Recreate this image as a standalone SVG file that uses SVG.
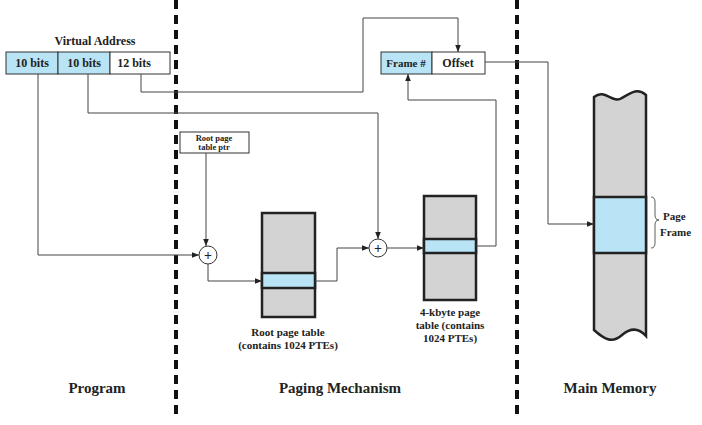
<svg xmlns="http://www.w3.org/2000/svg" width="702" height="425" viewBox="0 0 702 425">
<defs>
<style>
text{font-family:"Liberation Serif",serif;font-weight:bold;fill:#222}
.c{fill:none;stroke:#444;stroke-width:1}
.b{fill:#b8e4f5;stroke:#333;stroke-width:1}
.w{fill:#fff;stroke:#333;stroke-width:1}
.g{fill:#d3d3d3;stroke:#222;stroke-width:2.5}
.bb{fill:#b8e4f5;stroke:#222;stroke-width:2.5}
.div{stroke:#111;stroke-width:4;stroke-dasharray:9,6}
</style>
<marker id="a" viewBox="0 0 10 10" refX="10" refY="5" markerWidth="7" markerHeight="7" orient="auto"><path d="M0,1 L10,5 L0,9z" fill="#222"/></marker>
</defs>
<rect width="702" height="425" fill="#fff"/>
<line class="div" x1="176" y1="0" x2="176" y2="418"/>
<line class="div" x1="517" y1="0" x2="517" y2="418"/>
<g id="va">
<text x="95" y="45" font-size="12" text-anchor="middle">Virtual Address</text>
<rect class="b" x="6" y="52" width="52" height="22"/>
<rect class="b" x="58" y="52" width="52" height="22"/>
<rect class="w" x="110" y="52" width="60" height="22"/>
<text x="32" y="67" font-size="12" text-anchor="middle">10 bits</text>
<text x="84" y="67" font-size="12" text-anchor="middle">10 bits</text>
<text x="134" y="67" font-size="12" text-anchor="middle">12 bits</text>
</g>
<g id="pa">
<rect class="b" x="381" y="52" width="51" height="22"/>
<rect class="w" x="432" y="52" width="53" height="22"/>
<text x="406" y="67" font-size="11" text-anchor="middle">Frame #</text>
<text x="458" y="67" font-size="12" text-anchor="middle">Offset</text>
</g>
<g id="ptr">
<rect class="w" x="180" y="132" width="69" height="21"/>
<text x="214" y="141" font-size="8.5" text-anchor="middle">Root page</text>
<text x="214" y="150" font-size="8.5" text-anchor="middle">table ptr</text>
</g>
<g id="add1">
<circle cx="208" cy="255" r="9" fill="#fff" stroke="#333"/>
<text x="208" y="260" font-size="14" text-anchor="middle">+</text>
</g>
<g id="add2">
<circle cx="378" cy="248" r="9" fill="#fff" stroke="#333"/>
<text x="378" y="253" font-size="14" text-anchor="middle">+</text>
</g>
<g id="root">
<rect class="g" x="262" y="213" width="53" height="104"/>
<rect class="bb" x="262" y="273" width="53" height="15"/>
<text x="288" y="336" font-size="11" text-anchor="middle">Root page table</text>
<text x="288" y="349" font-size="11" text-anchor="middle">(contains 1024 PTEs)</text>
</g>
<g id="pt">
<rect class="g" x="424" y="196" width="52" height="104"/>
<rect class="bb" x="424" y="239" width="52" height="14"/>
<text x="450" y="316" font-size="11" text-anchor="middle">4-kbyte page</text>
<text x="450" y="329" font-size="11" text-anchor="middle">table (contains</text>
<text x="450" y="342" font-size="11" text-anchor="middle">1024 PTEs)</text>
</g>
<g id="mem">
<path class="g" d="M594,97 C605,88 612,104 622,98 C632,92 638,88 646,95 L646,336 C638,327 630,328 622,335 C612,344 604,339 594,330 Z" stroke-width="1.5"/>
<rect class="bb" x="594" y="197" width="52" height="56"/>
<path d="M651,197 q4,0 4,5 v13 q0,5 4,5 q-4,0 -4,5 v18 q0,5 -4,5" fill="none" stroke="#333" stroke-width="0.8"/>
<text x="663" y="220" font-size="11">Page</text>
<text x="660" y="236" font-size="11">Frame</text>
</g>
<g id="connectors">
<path class="c" d="M38,74 V255 H199" marker-end="url(#a)"/>
<path class="c" d="M206,153 V246" marker-end="url(#a)"/>
<path class="c" d="M208,264 V281 H262" marker-end="url(#a)"/>
<path class="c" d="M315,281 H337 V248 H369" marker-end="url(#a)"/>
<path class="c" d="M88,74 V113 H378 V239" marker-end="url(#a)"/>
<path class="c" d="M387,248 H424" marker-end="url(#a)"/>
<path class="c" d="M476,246 H496 V100 H408 V74" marker-end="url(#a)"/>
<path class="c" d="M141,74 V92 H363 V18 H458 V52" marker-end="url(#a)"/>
<path class="c" d="M485,62 H548 V224 H594" marker-end="url(#a)"/>
</g>
<g id="labels">
<text x="97" y="393" font-size="15" text-anchor="middle">Program</text>
<text x="340" y="393" font-size="15" text-anchor="middle">Paging Mechanism</text>
<text x="610" y="393" font-size="15" text-anchor="middle">Main Memory</text>
</g>
</svg>
